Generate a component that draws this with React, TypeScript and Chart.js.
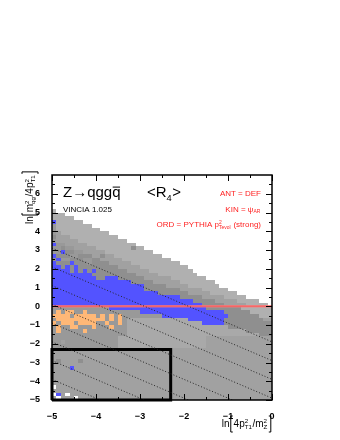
import { useEffect, useRef } from 'react';
import { Chart, registerables } from 'chart.js';
Chart.register(...registerables);

// ---------- data ----------
const xRange = [-5, 0];
const yRange = [-5, 7];
const xBin = 0.1;
const yBin = 0.2;
const xTicks = [-5, -4, -3, -2, -1, 0];
const yTicks = [-5, -4, -3, -2, -1, 0, 1, 2, 3, 4, 5, 6];
const xMinorTicks = [-4.5, -3.5, -2.5, -1.5, -0.5];
const yMinorTicks = [-4.5, -3.5, -2.5, -1.5, -0.5, 0.5, 1.5, 2.5, 3.5, 4.5, 5.5, 6.5];
// constant ln(m_qg^2/m_Z^2) guide lines: y = k - x
const guideLevels = [-1.9, -2.9, -3.9, -4.9, -5.9, -6.9, -7.9, -8.9, -9.9];
const referenceLevel = 0;
const boxCorner = -2.303;
// heat-map rows, top (y=7) to bottom (y=-5), run-length coded, 50 columns from x=-5
const cellRows: string[] = [
  '', '', '', '', '', '', '', '', '',
  'L1',
  'L3',
  'L5',
  'B1L6',
  'K1L8',
  'K1L10',
  'K1M1L11',
  'D1M3L11',
  'K1M5L11',
  'B1K2M5L11',
  'K2D1K2M5L8D1L2',
  'K2B1D2K2M5L11',
  'B1D3K2D3M2D1M2L11',
  'D1B1K2D3K2D2M5L11',
  'B1D3B1D3K1D4M5L11',
  'B2D1B1D1B1D9M5L11',
  'B4D1B1D1B1D1B1D7M5L10',
  'B9D10M5L9',
  'B10D2B3D6M6L8',
  'B18D5M6L8',
  'B21D5M5L7',
  'B21D8M5L6',
  'B24D7M5L6',
  'B29D5M5L5',
  'B32D5M5L5',
  'B34D5M5L5',
  'K13B22D8L7',
  'K1O1K1O2K2O1K12B19D6L5',
  'O4K1O5K1O1K1O1K1O1K9B15D7L3',
  'K1O11K1O1K1O1K1l14B8D9M2',
  'O1K1O3K1O4K2O1K2O1K1l17B5D11',
  'K1O1K2O2K3O1K3O1K3l23D10',
  'K1O1K5O1K9l27D6',
  'K17l30D3',
  'K15l20M15',
  'K2M1K12l20M15',
  'K15l20M15',
  'K10M40',
  'M50',
  'M50',
  'M1D1M4D1M43',
  'M50',
  'M4B1M45',
  'M50',
  'M50',
  'M50',
  'M50',
  'W1M49',
  'M50',
  'W1B1M1W1M46',
  'M1W1M3W1M44',
];
const cellColors: Record<string, string> = {
  L: '#b0b0b0',
  l: '#a9a9a9',
  M: '#a1a1a1',
  K: '#999999',
  D: '#8f8f8f',
  B: '#5353ff',
  O: '#ffb877',
  W: '#ffffff',
};

const FAM = '"Liberation Sans", Arial, sans-serif';
const fmt = (v: number) => (v < 0 ? '\u2212' + Math.abs(v) : String(v));

function decodeRow(s: string): string[] {
  const out: string[] = [];
  const re = /([A-Za-z.])(\d+)/g;
  let m: RegExpExecArray | null;
  while ((m = re.exec(s))) {
    for (let i = 0; i < Number(m[2]); i++) out.push(m[1]);
  }
  return out;
}

interface Part { t?: string; sup?: string; sub?: string; br?: '[' | ']'; over?: boolean; }

function partWidth(ctx: CanvasRenderingContext2D, p: Part, size: number) {
  if (p.br) return size * 0.4;
  if (p.t !== undefined) {
    ctx.font = `${size}px ${FAM}`;
    return ctx.measureText(p.t).width;
  }
  ctx.font = `${size * 0.62}px ${FAM}`;
  return Math.max(p.sup ? ctx.measureText(p.sup).width : 0, p.sub ? ctx.measureText(p.sub).width : 0) + 0.6;
}

function drawRich(ctx: CanvasRenderingContext2D, parts: Part[], x: number, y: number, size: number, color: string, align: 'left' | 'right', brTop = 1.0, brBot = 0.4) {
  const widths = parts.map((p) => partWidth(ctx, p, size));
  const total = widths.reduce((a, b) => a + b, 0);
  let cx = align === 'right' ? x - total : x;
  ctx.fillStyle = color;
  ctx.strokeStyle = color;
  ctx.textAlign = 'left';
  ctx.textBaseline = 'alphabetic';
  parts.forEach((p, i) => {
    const w = widths[i];
    if (p.br) {
      ctx.lineWidth = 1;
      const top = y - size * brTop;
      const bot = y + size * brBot;
      ctx.beginPath();
      if (p.br === '[') {
        ctx.moveTo(cx + w * 0.8, top); ctx.lineTo(cx + w * 0.3, top); ctx.lineTo(cx + w * 0.3, bot); ctx.lineTo(cx + w * 0.8, bot);
      } else {
        ctx.moveTo(cx + w * 0.2, top); ctx.lineTo(cx + w * 0.7, top); ctx.lineTo(cx + w * 0.7, bot); ctx.lineTo(cx + w * 0.2, bot);
      }
      ctx.stroke();
    } else if (p.t !== undefined) {
      ctx.font = `${size}px ${FAM}`;
      ctx.fillText(p.t, cx, y);
      if (p.over) {
        ctx.lineWidth = 1;
        ctx.beginPath();
        ctx.moveTo(cx + 0.5, y - size * 0.66);
        ctx.lineTo(cx + w - 0.5, y - size * 0.66);
        ctx.stroke();
      }
    } else {
      ctx.font = `${size * 0.62}px ${FAM}`;
      if (p.sup) ctx.fillText(p.sup, cx, y - size * 0.42);
      if (p.sub) ctx.fillText(p.sub, cx, y + size * 0.24);
    }
    cx += w;
  });
}

const heatmapPlugin = {
  id: 'heatmap',
  beforeDatasetsDraw(chart: any) {
    const { ctx, scales } = chart;
    const xs = scales.x, ys = scales.y;
    ctx.save();
    cellRows.forEach((row, r) => {
      const cells = decodeRow(row);
      const yTop = yRange[1] - r * yBin;
      const y0 = Math.round(ys.getPixelForValue(yTop));
      const y1 = Math.round(ys.getPixelForValue(yTop - yBin));
      cells.forEach((code, c) => {
        const col = cellColors[code];
        if (!col) return;
        const xl = xRange[0] + c * xBin;
        const x0 = Math.round(xs.getPixelForValue(xl));
        const x1 = Math.round(xs.getPixelForValue(xl + xBin));
        ctx.fillStyle = col;
        ctx.fillRect(x0, y0, x1 - x0, y1 - y0);
      });
    });
    ctx.restore();
  },
  afterDatasetsDraw(chart: any) {
    const { ctx, scales, chartArea } = chart;
    const xs = scales.x, ys = scales.y;
    const { left, right, top, bottom } = chartArea;
    ctx.save();
    ctx.strokeStyle = '#000';
    ctx.lineWidth = 1;
    ctx.beginPath();
    const xt = (v: number, len: number) => {
      const p = Math.round(xs.getPixelForValue(v)) + 0.5;
      ctx.moveTo(p, bottom); ctx.lineTo(p, bottom - len);
      ctx.moveTo(p, top); ctx.lineTo(p, top + len);
    };
    const yt = (v: number, len: number) => {
      const p = Math.round(ys.getPixelForValue(v)) + 0.5;
      ctx.moveTo(left, p); ctx.lineTo(left + len, p);
      ctx.moveTo(right, p); ctx.lineTo(right - len, p);
    };
    xTicks.forEach((v) => xt(v, 6));
    xMinorTicks.forEach((v) => xt(v, 3));
    yTicks.forEach((v) => yt(v, 6));
    yMinorTicks.forEach((v) => yt(v, 3));
    ctx.stroke();
    ctx.lineWidth = 1.5;
    ctx.strokeRect(left, top, right - left, bottom - top);
    ctx.restore();
  },
  afterDraw(chart: any) {
    const { ctx } = chart;
    ctx.save();
    drawRich(ctx, [{ t: 'Z\u2192qgg' }, { t: 'q', over: true }], 63, 197, 15, '#000', 'left');
    drawRich(ctx, [{ t: '<R' }, { sub: '4' }, { t: '>' }], 147, 197, 15, '#000', 'left');
    drawRich(ctx, [{ t: 'VINCIA 1.025' }], 63, 212, 8, '#000', 'left');
    const red = '#ff2222';
    drawRich(ctx, [{ t: 'ANT = DEF' }], 261, 195.5, 8, red, 'right');
    drawRich(ctx, [{ t: 'KIN = \u03c8' }, { sub: 'AR' }], 261, 211.5, 8, red, 'right');
    drawRich(ctx, [{ t: 'ORD = PYTHIA p' }, { sup: '2', sub: 'Tevol' }, { t: ' (strong)' }], 261, 227, 8, red, 'right');
    drawRich(ctx, [{ t: 'ln' }, { br: '[' }, { t: '4p' }, { sup: '2', sub: 'T1' }, { t: '/m' }, { sup: '2', sub: 'Z' }, { br: ']' }], 272, 427, 10, '#000', 'right', 1.1, 0.5);
    ctx.translate(33, 224);
    ctx.rotate(-Math.PI / 2);
    drawRich(ctx, [{ t: 'ln' }, { br: '[' }, { t: 'm' }, { sup: '2', sub: 'qg' }, { t: '/4p' }, { sup: '2', sub: 'T1' }, { br: ']' }], 0, 0, 10, '#000', 'left', 1.1, 0.5);
    ctx.restore();
  },
};

export default function App() {
  const ref = useRef<HTMLCanvasElement | null>(null);
  useEffect(() => {
    if (!ref.current) return;
    const lineDs = guideLevels.map((k) => ({
      data: [{ x: xRange[0], y: k - xRange[0] }, { x: xRange[1], y: k - xRange[1] }],
      showLine: true,
      borderColor: '#262626',
      borderWidth: 1,
      borderDash: [1, 2],
      pointRadius: 0,
    }));
    const chart = new Chart(ref.current, {
      type: 'scatter',
      data: {
        datasets: [
          ...lineDs,
          {
            data: [{ x: xRange[0], y: referenceLevel }, { x: xRange[1], y: referenceLevel }],
            showLine: true,
            borderColor: 'rgba(255,120,120,0.75)',
            borderWidth: 2.5,
            pointRadius: 0,
          },
          {
            data: [{ x: xRange[0], y: referenceLevel }, { x: xRange[1], y: referenceLevel }],
            showLine: true,
            borderColor: '#ee1111',
            borderWidth: 1,
            pointRadius: 0,
          },
          {
            data: [
              { x: xRange[0], y: yRange[0] },
              { x: xRange[0], y: boxCorner },
              { x: boxCorner, y: boxCorner },
              { x: boxCorner, y: yRange[0] },
              { x: xRange[0], y: yRange[0] },
            ],
            showLine: true,
            borderColor: '#000',
            borderWidth: 3,
            pointRadius: 0,
            clip: false,
          },
        ] as any,
      },
      options: {
        animation: false,
        responsive: false,
        maintainAspectRatio: false,
        layout: { padding: { top: 175, right: 68, left: 0, bottom: 0 } },
        plugins: { legend: { display: false }, tooltip: { enabled: false }, title: { display: false } },
        scales: {
          x: {
            type: 'linear',
            min: xRange[0],
            max: xRange[1],
            position: 'bottom',
            grid: { display: false },
            border: { display: false },
            afterBuildTicks: (s: any) => { s.ticks = xTicks.map((v) => ({ value: v })); },
            afterFit: (s: any) => { s.height = 40; },
            ticks: { callback: (v: any) => fmt(Number(v)), color: '#000', font: { family: FAM, size: 9, weight: 'bold' }, padding: 3, maxRotation: 0, autoSkip: false },
          },
          y: {
            type: 'linear',
            min: yRange[0],
            max: yRange[1],
            position: 'left',
            grid: { display: false },
            border: { display: false },
            afterBuildTicks: (s: any) => { s.ticks = yTicks.map((v) => ({ value: v })); },
            afterFit: (s: any) => { s.width = 52; },
            ticks: { callback: (v: any) => fmt(Number(v)), color: '#000', font: { family: FAM, size: 9, weight: 'bold' }, padding: 4, autoSkip: false },
          },
        },
      } as any,
      plugins: [heatmapPlugin],
    });
    return () => chart.destroy();
  }, []);
  return (
    <div style={{ position: 'absolute', left: 0, top: 0, width: 340, height: 440, background: '#fff' }}>
      <canvas ref={ref} width={340} height={440} style={{ display: 'block' }} />
    </div>
  );
}
